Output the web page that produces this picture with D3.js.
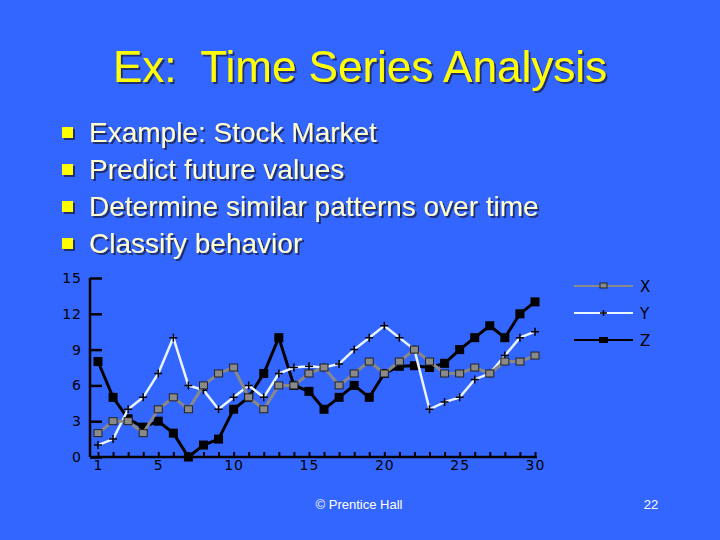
<!DOCTYPE html>
<html><head><meta charset="utf-8">
<script src="https://cdn.jsdelivr.net/npm/d3@7"></script>
<style>
html,body{margin:0;padding:0;background:#3366ff;}
svg{display:block;}
text{white-space:pre;}
</style></head>
<body>
<svg id="chart" width="720" height="540"></svg>
<script>
const title = "Ex:  Time Series Analysis";
const bullets = ["Example: Stock Market","Predict future values","Determine similar patterns over time","Classify behavior"];
const days = d3.range(1,31);
const seriesX = [2,3,3,2,4,5,4,6,7,7.5,5,4,6,6,7,7.5,6,7,8,7,8,9,8,7,7,7.5,7,8,8,8.5];
const seriesY = [1,1.5,4,5,7,10,6,5.6,4,5,6,5,7,7.5,7.6,7.5,7.8,9,10,11,10,9,4,4.6,5,6.5,7,8.5,10,10.5];
const seriesZ = [8,5,3.2,2.5,3,2,0,1,1.5,4,5,7,10,6,5.5,4,5,6,5,7,7.6,7.65,7.5,7.85,9,10,11,10,12,13];
const yTicks = [0,3,6,9,12,15];
const xTickLabels = [1,5,10,15,20,25,30];
const seriesNames = ["X","Y","Z"];
const footer = "© Prentice Hall";
const pageNum = "22";

const svg = d3.select("#chart");
const defs = svg.append("defs");
const f = defs.append("filter").attr("id","shadow").attr("x","-10%").attr("y","-20%").attr("width","120%").attr("height","150%");
f.append("feDropShadow").attr("dx",2).attr("dy",2).attr("stdDeviation",0.6).attr("flood-color","#1a2a60").attr("flood-opacity",0.9);

svg.append("rect").attr("width",720).attr("height",540).attr("fill","#3366ff");

// Title
svg.append("text").attr("x",360).attr("y",82).attr("text-anchor","middle")
  .attr("font-family","Liberation Sans, Arial, sans-serif").attr("font-size",44)
  .attr("fill","#ffff00").attr("filter","url(#shadow)").text(title);

// Bullets
bullets.forEach((b,i)=>{
  const cy = 132 + i*37;
  svg.append("rect").attr("x",62).attr("y",cy-5).attr("width",11).attr("height",11).attr("fill","#ffff00").attr("filter","url(#shadow)");
  svg.append("text").attr("x",89).attr("y",cy+10).attr("font-family","Liberation Sans, Arial, sans-serif")
    .attr("font-size",28).attr("fill","#ffffd0").attr("filter","url(#shadow)").text(b);
});

// Chart
const x = d3.scaleLinear().domain([1,30]).range([98,535]);
const y = d3.scaleLinear().domain([0,15]).range([457,278]);
const axisFont = "DejaVu Sans, Verdana, sans-serif";

const gy = svg.append("g").attr("transform","translate(90,0)")
  .call(d3.axisLeft(y).tickValues(yTicks).tickSize(-12).tickPadding(8).tickFormat(d3.format("d")));
gy.select(".domain").attr("d","M0,278V457").attr("stroke","#000").attr("stroke-width",2.5);
gy.selectAll(".tick line").attr("stroke","#000").attr("stroke-width",2.5);
gy.selectAll(".tick text").attr("font-family",axisFont).attr("font-size",14).attr("fill","#000")
  .attr("letter-spacing",1);

const gx = svg.append("g").attr("transform","translate(0,457)")
  .call(d3.axisBottom(x).tickValues(days).tickSize(-5).tickPadding(3)
    .tickFormat(d=> xTickLabels.includes(d)? String(d):""));
gx.select(".domain").attr("d","M90,0H537").attr("stroke","#000").attr("stroke-width",2.5);
gx.selectAll(".tick line").attr("stroke","#000").attr("stroke-width",2);
gx.selectAll(".tick text").attr("font-family",axisFont).attr("font-size",14).attr("fill","#000").attr("letter-spacing",1);

const line = d3.line().x((d,i)=>x(days[i])).y(d=>y(d));

// Z series
svg.append("path").datum(seriesZ).attr("d",line).attr("fill","none").attr("stroke","#000").attr("stroke-width",3);
svg.selectAll(".zpt").data(seriesZ).join("rect").attr("class","zpt")
  .attr("x",(d,i)=>x(days[i])-4.5).attr("y",d=>y(d)-4.5).attr("width",9).attr("height",9).attr("fill","#000");

// Y series
svg.append("path").datum(seriesY).attr("d",line).attr("fill","none").attr("stroke","#e8f4ff").attr("stroke-width",2.5);
svg.selectAll(".ypt").data(seriesY).join("path").attr("class","ypt")
  .attr("d",(d,i)=>{const cx=x(days[i]),cy=y(d);return `M${cx-4},${cy}H${cx+4}M${cx},${cy-4}V${cy+4}`;})
  .attr("stroke","#000").attr("stroke-width",1.5);

// X series
svg.append("path").datum(seriesX).attr("d",line).attr("fill","none").attr("stroke","#888").attr("stroke-width",3);
svg.selectAll(".xpt").data(seriesX).join("rect").attr("class","xpt")
  .attr("x",(d,i)=>x(days[i])-4).attr("y",d=>y(d)-3.5).attr("width",8).attr("height",7)
  .attr("fill","#8a8a8a").attr("stroke","#222").attr("stroke-width",1);

// Legend
const legY = [286,313,340];
const lg = svg.append("g");
seriesNames.forEach((n,i)=>{
  const yy = legY[i];
  if(i===0){
    lg.append("line").attr("x1",574).attr("x2",633).attr("y1",yy).attr("y2",yy).attr("stroke","#8a8a8a").attr("stroke-width",2);
    lg.append("rect").attr("x",600).attr("y",yy-3).attr("width",7).attr("height",5).attr("fill","#8a8a8a").attr("stroke","#222").attr("stroke-width",1);
  } else if(i===1){
    lg.append("line").attr("x1",574).attr("x2",633).attr("y1",yy).attr("y2",yy).attr("stroke","#e8f4ff").attr("stroke-width",2);
    lg.append("path").attr("d",`M600,${yy}H607M603.5,${yy-3}V${yy+3}`).attr("stroke","#000").attr("stroke-width",1.5);
  } else {
    lg.append("line").attr("x1",574).attr("x2",633).attr("y1",yy).attr("y2",yy).attr("stroke","#000").attr("stroke-width",2);
    lg.append("rect").attr("x",599).attr("y",yy-3).attr("width",9).attr("height",6).attr("fill","#000");
  }
  lg.append("text").attr("x",640).attr("y",yy+6).attr("font-family",axisFont).attr("font-size",15)
    .attr("fill","#000").text(n);
});

// Footer
svg.append("text").attr("x",359).attr("y",509).attr("text-anchor","middle").attr("font-family","Liberation Sans, Arial, sans-serif")
  .attr("font-size",13).attr("fill","#fff").text(footer);
svg.append("text").attr("x",651).attr("y",509).attr("text-anchor","middle").attr("font-family","Liberation Sans, Arial, sans-serif")
  .attr("font-size",13).attr("fill","#fff").text(pageNum);
</script>
</body></html>
